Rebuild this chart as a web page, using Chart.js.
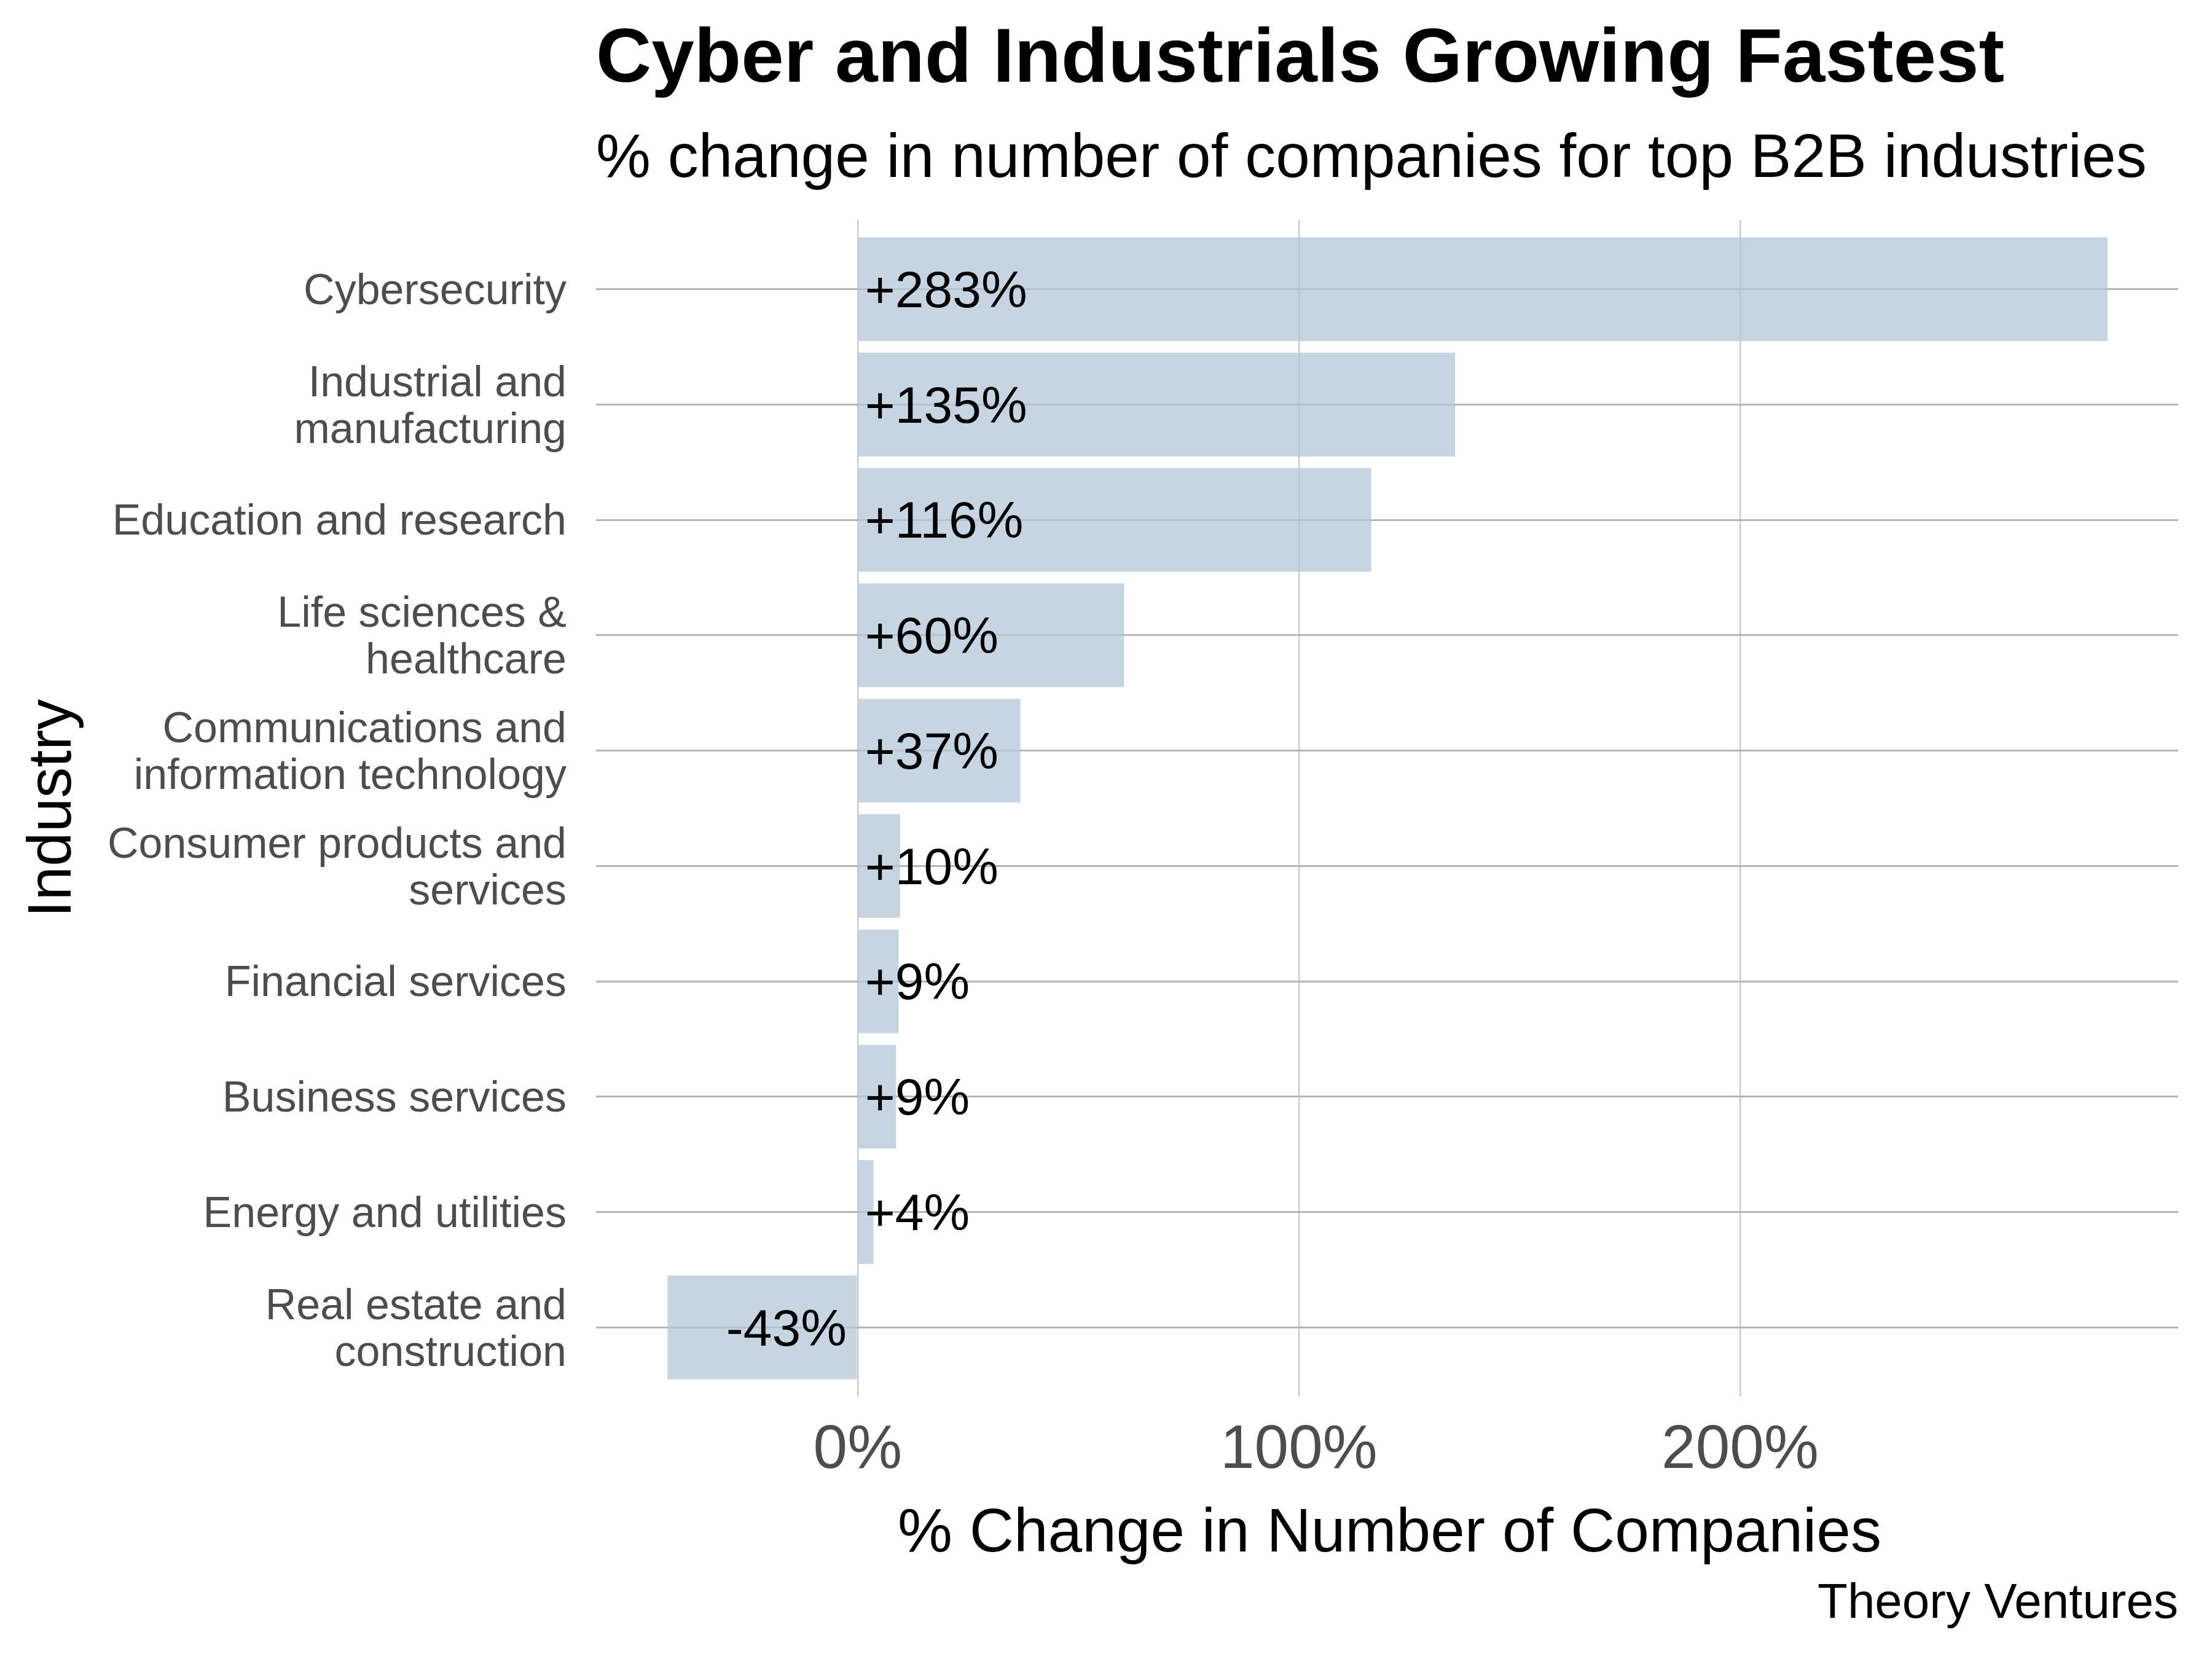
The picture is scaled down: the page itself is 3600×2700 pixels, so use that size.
<!DOCTYPE html>
<html>
<head>
<meta charset="utf-8">
<script src="https://cdn.jsdelivr.net/npm/chart.js@4/dist/chart.umd.min.js"></script>
<style>
  html, body { margin: 0; padding: 0; background: #fff; }
  #wrap { width: 3600px; height: 2700px; }
</style>
</head>
<body>
<div id="wrap"><canvas id="ch" width="3600" height="2700"></canvas></div>
<script>
// ---- data ----
const industries = [
  'Cybersecurity',
  ['Industrial and', 'manufacturing'],
  'Education and research',
  ['Life sciences &', 'healthcare'],
  ['Communications and', 'information technology'],
  ['Consumer products and', 'services'],
  'Financial services',
  'Business services',
  'Energy and utilities',
  ['Real estate and', 'construction']
];
const pctChange = [283.3, 135.4, 116.4, 60.4, 36.9, 9.6, 9.3, 8.7, 3.6, -43.1];
const xTicks = [0, 100, 200];

const TITLE = 'Cyber and Industrials Growing Fastest';
const SUBTITLE = '% change in number of companies for top B2B industries';
const X_TITLE = '% Change in Number of Companies';
const Y_TITLE = 'Industry';
const CAPTION = 'Theory Ventures';

const FONT = '"Liberation Sans", Arial, Helvetica, sans-serif';
const GREY = '#4d4d4d';

const fmt = v => (v >= 0 ? '+' : '') + Math.round(v) + '%';

// titles, axis titles, caption
const textPlugin = {
  id: 'texts',
  afterDraw(chart) {
    const { ctx, chartArea: a } = chart;
    ctx.save();
    ctx.fillStyle = '#000';
    ctx.textBaseline = 'alphabetic';
    ctx.textAlign = 'left';
    ctx.font = `bold 125px ${FONT}`;
    ctx.fillText(TITLE, a.left, 133);
    ctx.font = `100px ${FONT}`;
    ctx.fillText(SUBTITLE, a.left, 288);

    ctx.textAlign = 'center';
    ctx.fillText(X_TITLE, (a.left + a.right) / 2 + 4, 2525);

    ctx.save();
    ctx.translate(115, (a.top + a.bottom) / 2);
    ctx.rotate(-Math.PI / 2);
    ctx.fillText(Y_TITLE, 0, 0);
    ctx.restore();

    ctx.textAlign = 'right';
    ctx.font = `80px ${FONT}`;
    ctx.fillText(CAPTION, a.right, 2633);
    ctx.restore();
  }
};

// value labels anchored at the zero line
const labelPlugin = {
  id: 'barLabels',
  afterDatasetsDraw(chart) {
    const { ctx } = chart;
    const x0 = chart.scales.x.getPixelForValue(0);
    ctx.save();
    ctx.font = `84px ${FONT}`;
    ctx.fillStyle = '#000';
    ctx.textBaseline = 'middle';
    chart.getDatasetMeta(0).data.forEach((bar, i) => {
      const v = pctChange[i];
      ctx.textAlign = v >= 0 ? 'left' : 'right';
      ctx.fillText(fmt(v), v >= 0 ? x0 + 12 : x0 - 18, bar.y + 6);
    });
    ctx.restore();
  }
};

new Chart(document.getElementById('ch'), {
  type: 'bar',
  data: {
    datasets: [{
      data: pctChange.map((v, i) => ({ x: v, y: i })),
      backgroundColor: 'rgba(180,199,216,0.75)',
      borderWidth: 0,
      barPercentage: 0.9,
      categoryPercentage: 1
    }]
  },
  options: {
    indexAxis: 'y',
    responsive: false,
    animation: false,
    devicePixelRatio: 1,
    layout: { padding: { top: 358, right: 55, left: 0, bottom: 0 } },
    plugins: { legend: { display: false }, tooltip: { enabled: false } },
    scales: {
      x: {
        type: 'linear',
        min: -59.3,
        max: 299.3,
        afterBuildTicks: s => { s.ticks = xTicks.map(v => ({ value: v })); },
        afterFit: s => { s.height = 2700 - 2273; },
        grid: { color: '#cbcbcb', lineWidth: 2.5, drawTicks: false },
        border: { display: false },
        ticks: {
          color: GREY,
          font: { family: FONT, size: 100 },
          padding: 28,
          callback: v => v + '%'
        }
      },
      y: {
        type: 'linear',
        reverse: true,
        offset: false,
        min: -0.6,
        max: 9.6,
        afterBuildTicks: s => { s.ticks = industries.map((_, i) => ({ value: i })); },
        afterFit: s => { s.width = 970; },
        grid: { color: '#b5b5b5', lineWidth: 3, drawTicks: false, offset: false },
        border: { display: false },
        ticks: {
          color: GREY,
          font: { family: FONT, size: 70, lineHeight: 1.086 },
          padding: 48,
          labelOffset: 5,
          callback: v => industries[v]
        }
      }
    }
  },
  plugins: [textPlugin, labelPlugin]
});
</script>
</body>
</html>
